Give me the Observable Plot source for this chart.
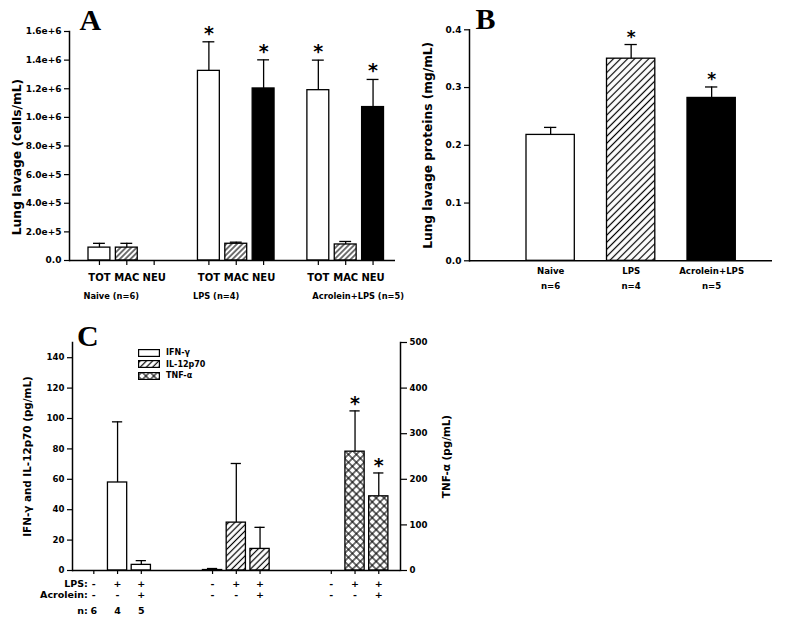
<!DOCTYPE html>
<html><head><meta charset="utf-8">
<script src="https://cdn.jsdelivr.net/npm/d3@7"></script>
<script src="https://cdn.jsdelivr.net/npm/@observablehq/plot@0.6"></script>
<style>
html,body{margin:0;padding:0;background:#fff;}
#root{position:relative;width:800px;height:620px;overflow:hidden;background:#fff;font-family:"DejaVu Sans",sans-serif;}
#root > svg{position:absolute;}
.legend{position:absolute;left:138px;top:347px;font-family:"DejaVu Sans",sans-serif;font-weight:bold;font-size:8px;line-height:11.6px;}
.legend .row{display:flex;align-items:center;height:11.6px;}
.legend svg{display:block;margin-right:6px;}
</style></head><body>
<svg width="0" height="0" style="position:absolute">
<defs>
<pattern id="hatchA" patternUnits="userSpaceOnUse" width="3.8" height="3.8" patternTransform="rotate(45)"><rect width="3.8" height="3.8" fill="white"/><line x1="1.9" y1="0" x2="1.9" y2="3.8" stroke="black" stroke-width="1.1"/></pattern>
<pattern id="hatchB" patternUnits="userSpaceOnUse" width="5" height="5" patternTransform="rotate(45)"><rect width="5" height="5" fill="white"/><line x1="2.5" y1="0" x2="2.5" y2="5" stroke="black" stroke-width="1.2"/></pattern>
<pattern id="hatchC" patternUnits="userSpaceOnUse" width="4.4" height="4.4" patternTransform="rotate(45)"><rect width="4.4" height="4.4" fill="white"/><line x1="2.2" y1="0" x2="2.2" y2="4.4" stroke="black" stroke-width="1.2"/></pattern>
<pattern id="cross" patternUnits="userSpaceOnUse" width="5.6" height="5.6" patternTransform="rotate(45)"><rect width="5.6" height="5.6" fill="white"/><line x1="2.8" y1="0" x2="2.8" y2="5.6" stroke="black" stroke-width="1.1"/><line x1="0" y1="2.8" x2="5.6" y2="2.8" stroke="black" stroke-width="1.1"/></pattern>
</defs></svg>
<div id="root"></div>
<script>
// ---------- Panel A data ----------
const groupsA = ["Naive (n=6)", "LPS (n=4)", "Acrolein+LPS (n=5)"];
const cellTypes = ["TOT", "MAC", "NEU"];
const cellMean = [[0.09e6, 0.09e6, 0], [1.325e6, 0.117e6, 1.202e6], [1.19e6, 0.112e6, 1.072e6]];
const cellSem = [[0.03e6, 0.03e6, 0], [0.203e6, 0.011e6, 0.2e6], [0.21e6, 0.021e6, 0.193e6]];
const cellSig = [[false, false, false], [true, false, true], [true, false, true]];
const yTicksA = [0, 2e5, 4e5, 6e5, 8e5, 1e6, 1.2e6, 1.4e6, 1.6e6];
const yLabelA = "Lung lavage (cells/mL)";

// ---------- Panel B data ----------
const groupsB = ["Naive", "LPS", "Acrolein+LPS"];
const nB = ["n=6", "n=4", "n=5"];
const protMean = [0.218, 0.350, 0.282];
const protSem = [0.013, 0.0245, 0.019];
const protSig = [false, true, true];
const yTicksB = [0, 0.1, 0.2, 0.3, 0.4];
const yLabelB = "Lung lavage proteins (mg/mL)";

// ---------- Panel C data ----------
const cytokines = ["IFN-γ", "IL-12p70", "TNF-α"];
const treatments = ["naive", "LPS", "Acrolein+LPS"];
const lpsRow = ["-", "+", "+"];
const acrRow = ["-", "-", "+"];
const nRow = ["6", "4", "5"];
const rowLabels = ["LPS:", "Acrolein:", "n:"];
const cytMean = [[0, 57.9, 3.7], [0.3, 31.5, 14.2], [0, 260.6, 162.7]];
const cytSem = [[0, 39.9, 2.8], [1.0, 38.9, 14.2], [0, 89.4, 51.2]];
const cytSig = [[false, false, false], [false, false, false], [false, true, true]];
const yTicksCLeft = [0, 20, 40, 60, 80, 100, 120, 140];
const yTicksCRight = [0, 100, 200, 300, 400, 500];
const yLabelCLeft = "IFN-γ and IL-12p70 (pg/mL)";
const yLabelCRight = "TNF-α (pg/mL)";

const sans = "DejaVu Sans, Verdana, sans-serif";
const serif = "Liberation Serif, Times New Roman, serif";
const style = () => ({fontFamily: sans, fontWeight: "bold", fontSize: "9px", color: "black", background: "transparent", overflow: "visible"});
const root = document.getElementById("root");
function place(svg, left, top) { svg.style.left = left + "px"; svg.style.top = top + "px"; root.appendChild(svg); }

// ---------- Panel A ----------
const slotsA = [], dataA = [];
groupsA.forEach((g, gi) => {
  cellTypes.forEach((c, ci) => {
    const key = gi + "|" + c;
    slotsA.push(key);
    dataA.push({key, gi, group: g, cell: c, mean: cellMean[gi][ci], sem: cellSem[gi][ci], sig: cellSig[gi][ci]});
  });
  if (gi < groupsA.length - 1) slotsA.push("gap" + gi);
});
const groupShiftA = [-16, -16, -6];
const plotA = Plot.plot({
  width: 400, height: 310, marginLeft: 69, marginRight: 5, marginTop: 31, marginBottom: 50,
  style: style(),
  x: {type: "band", domain: slotsA, range: [88, 383.5], paddingInner: 0.2, paddingOuter: 0, round: false},
  y: {domain: [0, 1.6e6]},
  color: {type: "ordinal", domain: cellTypes, range: ["white", "url(#hatchA)", "black"]},
  marks: [
    Plot.barY(dataA.filter(d => d.mean > 0), {x: "key", y: "mean", fill: "cell", stroke: "black", strokeWidth: 1.3}),
    Plot.ruleX(dataA.filter(d => d.sem > 0), {x: "key", y1: "mean", y2: d => d.mean + d.sem, stroke: "black", strokeWidth: 1.3}),
    Plot.tickY(dataA.filter(d => d.sem > 0), {x: "key", y: d => d.mean + d.sem, insetLeft: 5, insetRight: 5, stroke: "black", strokeWidth: 1.3}),
    Plot.text(dataA.filter(d => d.sig), {x: "key", y: d => d.mean + d.sem, text: () => "*", lineAnchor: "bottom", dy: -2, fontSize: 19}),
    Plot.ruleY([0], {strokeWidth: 1.5}),
    Plot.frame({anchor: "left", strokeWidth: 1.5}),
    Plot.axisY({ticks: yTicksA, tickFormat: d => d === 0 ? "0.0" : d3.format(".1e")(d), tickSize: 5, tickPadding: 3, fontSize: 9, strokeWidth: 1.2, label: null}),
    Plot.axisX({ticks: dataA.map(d => d.key), tickFormat: k => k.split("|")[1], tickSize: 5, tickPadding: 8, fontSize: 10, strokeWidth: 1.2, label: null}),
    ...groupsA.map((g, gi) => Plot.text([g], {x: () => gi + "|TOT", text: d => d, frameAnchor: "bottom", lineAnchor: "bottom", textAnchor: "start", dx: groupShiftA[gi], dy: 38, fontSize: 8.3})),
    Plot.text([yLabelA], {text: d => d, frameAnchor: "left", textAnchor: "middle", lineAnchor: "middle", rotate: -90, dx: -52, dy: 11, fontSize: 12.3}),
    Plot.text(["A"], {text: d => d, frameAnchor: "top-left", textAnchor: "start", lineAnchor: "bottom", dx: 10, dy: -2, fontSize: 30, fontFamily: serif})
  ]
});
place(plotA, 0, 0);

// ---------- Panel B ----------
const dataB = groupsB.map((g, i) => ({group: g, n: nB[i], mean: protMean[i], sem: protSem[i], sig: protSig[i]}));
const plotB = Plot.plot({
  width: 400, height: 310, marginLeft: 69, marginRight: 28, marginTop: 29.3, marginBottom: 49.7,
  style: style(),
  x: {type: "band", domain: groupsB, range: [126, 335.3], paddingInner: 0.4, paddingOuter: 0, round: false},
  y: {domain: [0, 0.4]},
  color: {type: "ordinal", domain: groupsB, range: ["white", "url(#hatchB)", "black"]},
  marks: [
    Plot.barY(dataB, {x: "group", y: "mean", fill: "group", stroke: "black", strokeWidth: 1.3}),
    Plot.ruleX(dataB, {x: "group", y1: "mean", y2: d => d.mean + d.sem, stroke: "black", strokeWidth: 1.3}),
    Plot.tickY(dataB, {x: "group", y: d => d.mean + d.sem, insetLeft: 18, insetRight: 18, stroke: "black", strokeWidth: 1.3}),
    Plot.text(dataB.filter(d => d.sig), {x: "group", y: d => d.mean + d.sem, text: () => "*", lineAnchor: "bottom", dy: -2, fontSize: 17}),
    Plot.ruleY([0], {strokeWidth: 1.5}),
    Plot.frame({anchor: "left", strokeWidth: 1.5}),
    Plot.axisY({ticks: yTicksB, tickFormat: d3.format(".1f"), tickSize: 5, tickPadding: 3, fontSize: 9, strokeWidth: 1.2, label: null}),
    Plot.axisX({tickSize: 0, tickPadding: 7, fontSize: 8.6, label: null}),
    Plot.text(dataB, {x: "group", text: "n", frameAnchor: "bottom", lineAnchor: "bottom", dy: 28, fontSize: 8.6}),
    Plot.text([yLabelB], {text: d => d, frameAnchor: "left", textAnchor: "middle", lineAnchor: "middle", rotate: -90, dx: -41, fontSize: 12.2}),
    Plot.text(["B"], {text: d => d, frameAnchor: "top-left", textAnchor: "start", lineAnchor: "bottom", dx: 6, dy: -1.3, fontSize: 30, fontFamily: serif})
  ]
});
place(plotB, 400, 0);

// ---------- Panel C ----------
const tnfToLeft = d3.scaleLinear([0, 500], [0, 150]);
const slotsC = [], dataC = [];
cytokines.forEach((cy, ci) => {
  treatments.forEach((t, ti) => {
    const key = ci + "|" + ti;
    slotsC.push(key);
    dataC.push({key, ci, ti, cytokine: cy, mean: cytMean[ci][ti], sem: cytSem[ci][ti], sig: cytSig[ci][ti]});
  });
  if (ci < cytokines.length - 1) slotsC.push("gap" + ci + "a", "gap" + ci + "b");
});
const onLeft = (d, v) => d.ci === 2 ? tnfToLeft(v) : v;
const rowDy = [16, 27.5, 43.5];
const plotC = Plot.plot({
  width: 480, height: 320, marginLeft: 72, marginRight: 80, marginTop: 42, marginBottom: 50,
  style: style(),
  x: {type: "band", domain: slotsC, range: [83.7, 387.9], paddingInner: 0.19, paddingOuter: 0, round: false},
  y: {domain: [0, 150]},
  color: {type: "ordinal", domain: cytokines, range: ["white", "url(#hatchC)", "url(#cross)"]},
  marks: [
    Plot.barY(dataC.filter(d => d.mean > 0), {x: "key", y: d => onLeft(d, d.mean), fill: "cytokine", stroke: "black", strokeWidth: 1.3}),
    Plot.ruleX(dataC.filter(d => d.sem > 0), {x: "key", y1: d => onLeft(d, d.mean), y2: d => onLeft(d, d.mean + d.sem), stroke: "black", strokeWidth: 1.3}),
    Plot.tickY(dataC.filter(d => d.sem > 0), {x: "key", y: d => onLeft(d, d.mean + d.sem), insetLeft: 4.5, insetRight: 4.5, stroke: "black", strokeWidth: 1.3}),
    Plot.text(dataC.filter(d => d.sig), {x: "key", y: d => onLeft(d, d.mean + d.sem), text: () => "*", lineAnchor: "bottom", dy: -1, fontSize: 19}),
    Plot.ruleY([0], {strokeWidth: 1.5}),
    Plot.frame({anchor: "left", strokeWidth: 1.5}),
    Plot.frame({anchor: "right", strokeWidth: 1.5}),
    Plot.axisY({ticks: yTicksCLeft, tickSize: 5, tickPadding: 3, fontSize: 8.6, strokeWidth: 1.2, label: null}),
    Plot.axisY({anchor: "right", ticks: yTicksCRight.map(tnfToLeft), tickFormat: v => Math.round(tnfToLeft.invert(v)), tickSize: 6, tickPadding: 3, fontSize: 8.6, strokeWidth: 1.2, label: null}),
    Plot.axisX({ticks: dataC.map(d => d.key), tickFormat: () => "", tickSize: 4, strokeWidth: 1.2, label: null}),
    Plot.text(dataC, {x: "key", text: d => lpsRow[d.ti], frameAnchor: "bottom", lineAnchor: "bottom", dy: rowDy[0], fontSize: 9.5}),
    Plot.text(dataC, {x: "key", text: d => acrRow[d.ti], frameAnchor: "bottom", lineAnchor: "bottom", dy: rowDy[1], fontSize: 9.5}),
    Plot.text(dataC.filter(d => d.ci === 0), {x: "key", text: d => nRow[d.ti], frameAnchor: "bottom", lineAnchor: "bottom", dy: rowDy[2], fontSize: 9.5}),
    ...rowLabels.map((lab, i) => Plot.text([lab], {x: () => slotsC[0], text: d => d, frameAnchor: "bottom", lineAnchor: "bottom", textAnchor: "end", dx: -6, dy: rowDy[i], fontSize: 9.5})),
    Plot.text([yLabelCLeft], {text: d => d, frameAnchor: "left", textAnchor: "middle", lineAnchor: "middle", rotate: -90, dx: -44.5, fontSize: 10.4}),
    Plot.text([yLabelCRight], {text: d => d, frameAnchor: "right", textAnchor: "middle", lineAnchor: "middle", rotate: -90, dx: 46, fontSize: 10.4}),
    Plot.text(["C"], {text: d => d, frameAnchor: "top-left", textAnchor: "start", lineAnchor: "bottom", dx: 4.5, dy: 3, fontSize: 30, fontFamily: serif})
  ]
});
place(plotC, 0, 300);

// legend for panel C
const legendFills = ["white", "url(#hatchC)", "url(#cross)"];
const legend = document.createElement("div");
legend.className = "legend";
cytokines.forEach((c, i) => {
  const row = document.createElement("div");
  row.className = "row";
  row.innerHTML = `<svg width="22" height="8"><rect x="0.6" y="0.6" width="20.8" height="6.8" fill="${legendFills[i]}" stroke="black" stroke-width="1.2"/></svg><span>${c}</span>`;
  legend.appendChild(row);
});
root.appendChild(legend);
</script></body></html>
